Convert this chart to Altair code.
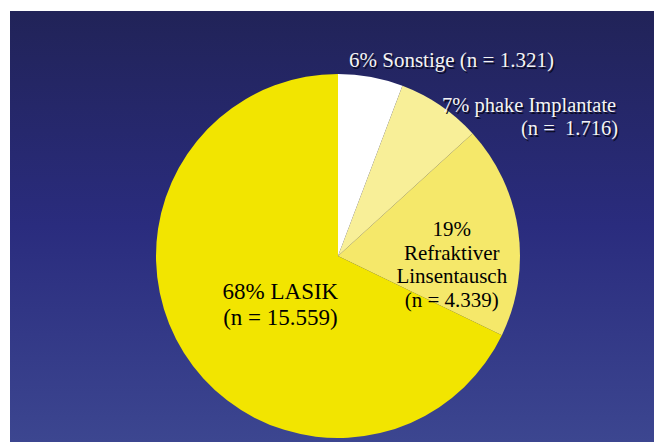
import altair as alt
import pandas as pd

categories = ["Sonstige", "phake Implantate", "Refraktiver Linsentausch", "LASIK"]
counts = [1321, 1716, 4339, 15559]
order_idx = [1, 2, 3, 4]
slice_colors = ["#ffffff", "#f8ef98", "#f5e86a", "#f2e500"]
inner_labels = ["", "", "19%\nRefraktiver\nLinsentausch\n(n = 4.339)", "68% LASIK\n(n = 15.559)"]

df = pd.DataFrame({
    "cat": categories,
    "n": counts,
    "ord": order_idx,
    "inner": inner_labels,
})

CX, CY, R = 338, 256, 182
FONT = "Liberation Serif"

bg = alt.Chart(alt.Data(values=[{"a": 1}])).mark_rect(
    fill=alt.Gradient(
        gradient="linear",
        x1=0, x2=0, y1=0, y2=1,
        stops=[
            alt.GradientStop(color="#212358", offset=0),
            alt.GradientStop(color="#2a2c7e", offset=0.5),
            alt.GradientStop(color="#3c4690", offset=1),
        ],
    )
).encode(x=alt.value(10), x2=alt.value(654), y=alt.value(11), y2=alt.value(442))

base = alt.Chart(df).encode(
    theta=alt.Theta("n:Q", stack=True),
    order=alt.Order("ord:Q"),
)

pie = base.mark_arc(outerRadius=R, stroke=None).encode(
    x=alt.value(CX), y=alt.value(CY),
    color=alt.Color("cat:N", scale=alt.Scale(domain=categories, range=slice_colors), legend=None),
)

lasik_txt = base.transform_calculate(
    t="datum.cat == 'LASIK' ? datum.inner : ''"
).mark_text(radius=68, font=FONT, fontSize=23, color="#000000",
            lineBreak="\n", lineHeight=26, align="center", baseline="middle").encode(
    x=alt.value(CX), y=alt.value(CY), text="t:N")

ref_txt = base.transform_calculate(
    t="datum.cat == 'Refraktiver Linsentausch' ? datum.inner : ''"
).mark_text(radius=117, font=FONT, fontSize=21, color="#000000", dx=-2, dy=-9,
            lineBreak="\n", lineHeight=23.5, align="center", baseline="middle").encode(
    x=alt.value(CX), y=alt.value(CY), text="t:N")

outer_lines = [
    {"txt": "6% Sonstige (n = 1.321)", "px": 349, "py": 67, "al": "left", "fs": 21},
    {"txt": "7% phake Implantate", "px": 442, "py": 112, "al": "left", "fs": 20.5},
    {"txt": "(n =\u00a0\u00a01.716)", "px": 618, "py": 135, "al": "right", "fs": 20.5},
]

def outer_layer(item, color, off):
    return alt.Chart(alt.Data(values=[{"t": item["txt"]}])).mark_text(
        font=FONT, fontSize=item["fs"], color=color, align=item["al"], baseline="alphabetic",
        dx=off, dy=off,
    ).encode(x=alt.value(item["px"]), y=alt.value(item["py"]), text="t:N")

outer = []
for it in outer_lines:
    outer.append(outer_layer(it, "#0b0c25", 1.5))
for it in outer_lines:
    outer.append(outer_layer(it, "#f4f4f4", 0))

chart = alt.layer(bg, pie, lasik_txt, ref_txt, *outer).properties(
    width=654, height=442, background="#ffffff", padding=0,
    autosize=alt.AutoSizeParams(type="none"),
).configure_view(stroke=None)

chart.save("out.html", embed_options={"renderer": "svg", "actions": False})
